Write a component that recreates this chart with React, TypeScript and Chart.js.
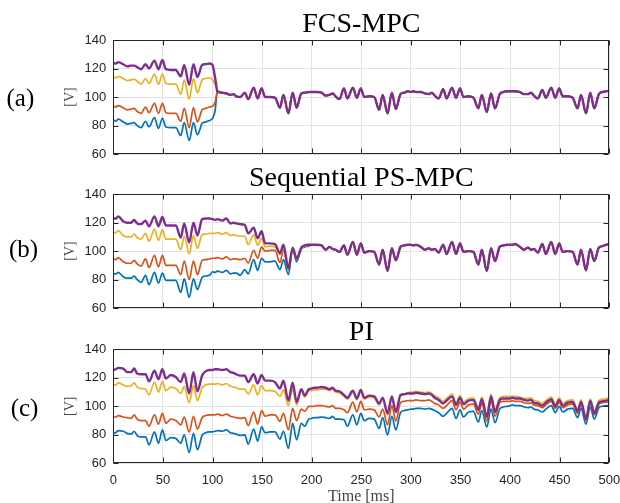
import React, { useEffect, useRef } from 'react';
import { Chart, registerables } from 'chart.js';

Chart.register(...registerables);

// ---------- DATA ----------
// Time axis [ms]
const time = [
  0, 2.5, 5, 10, 14, 18, 21, 24, 28, 32.5, 36, 41.5, 45.5, 49.5, 53, 58, 63, 68, 71.5, 76.5, 80.8, 84.8, 89.5, 93, 97,
  100, 102.5, 105, 110, 114, 118, 121, 124, 128, 132.5, 136, 141.5, 145.5, 149.5, 153, 158, 163, 168, 171.5, 176.5, 180.8, 184.8, 189.5, 193, 197,
  200, 202.5, 205, 210, 214, 218, 221, 224, 228, 232.5, 236, 241.5, 245.5, 249.5, 253, 258, 263, 268, 271.5, 276.5, 280.8, 284.8, 289.5, 293, 297,
  300, 302.5, 305, 310, 314, 318, 321, 324, 328, 332.5, 336, 341.5, 345.5, 349.5, 353, 358, 363, 368, 371.5, 376.5, 380.8, 384.8, 389.5, 393, 397,
  400, 402.5, 405, 410, 414, 418, 421, 424, 428, 432.5, 436, 441.5, 445.5, 449.5, 453, 458, 463, 468, 471.5, 476.5, 480.8, 484.8, 489.5, 493, 497,
  500,
];

// (a) FCS-MPC: separate start (0-102.5 ms), common converged part afterwards
const fcsBlueHead = [
  84, 83, 84.5, 82.5, 81, 81.5, 82, 80, 78.5, 83, 79, 85.5, 78, 85, 79, 78.5, 78.5, 73, 82, 69.5, 82, 73.5, 81.5, 82.5, 83.5,
  85, 90,
];
const fcsOrangeHead = [
  93.5, 93, 94, 92.5, 91, 91.5, 92, 90, 88.5, 93, 89, 95.5, 88.5, 95.5, 89, 88.5, 88.5, 83, 92, 78.5, 92.5, 82.5, 91, 92, 93,
  93.5, 96,
];
const fcsYellowHead = [
  114, 113.5, 114.5, 113, 111.5, 112, 112.5, 111, 109, 113, 109.5, 116, 109, 116, 109.5, 109, 109, 102, 112, 98.5, 113, 103, 112, 113, 113.5,
  112, 109,
];
const fcsPurpleHead = [
  124, 123.5, 124.5, 123, 121.5, 122, 122, 121, 119.5, 123, 120, 125.5, 119.5, 126, 119.5, 119, 119, 114.5, 122.5, 108.5, 123, 114, 122.5, 123, 123.5,
  122.5, 114,
];
const fcsTail = [
  104, 103, 102.5, 101.5, 102, 100.5, 100, 103, 98.5, 106.5, 99, 106, 100, 100, 99.5, 92.5, 101.5, 88.5, 103, 92.5, 102.5, 103, 103.5,
  103.5, 103.5, 103.5, 103, 101, 101.5, 102.5, 100.5, 98.5, 106, 99, 106.5, 99.5, 106, 100, 100.5, 100, 91, 101.5, 88.5, 103, 91.5, 102, 103, 104,
  103.5, 104, 103.5, 103.5, 102.5, 102, 103, 101, 99, 105.5, 99, 106.5, 99.5, 106, 100, 100.5, 99.5, 92, 101.5, 89.5, 102.5, 92, 102, 103.5, 104,
  104, 104, 104, 103.5, 102, 102, 103, 101, 99, 105, 99.5, 106.5, 99.5, 106, 100.5, 100.5, 99.5, 92, 101.5, 88.5, 103, 92, 102, 103.5, 104,
  104.5,
];

// (b) Sequential PS-MPC: separate start (0-197 ms), common converged part afterwards
const psBlueHead = [
  84, 84, 85, 82, 81, 81, 82.5, 80, 78, 83, 76.5, 85, 77.5, 84.5, 79.5, 79.5, 79.5, 71, 80.5, 67.5, 80.5, 73, 81.5, 82.5, 83,
  85.5, 85, 86, 85, 86.5, 84, 84.5, 84.5, 83, 87, 84, 94, 86.5, 95, 92.5, 92.5, 93, 87, 94, 83.5, 101.5, 92.5, 101.5, 103, 103.5,
];
const psOrangeHead = [
  94.5, 94, 95.5, 92.5, 91.5, 91.5, 93.5, 91, 89.5, 94.5, 88.5, 97, 89, 97, 90, 90, 90, 83.5, 93, 80, 93, 83.5, 93.5, 94, 94.5,
  95, 95, 95.5, 94.5, 96, 94, 94.5, 94.5, 94, 95, 91.5, 100.5, 95, 103, 100, 100.5, 100.5, 92, 101, 87, 102, 94, 102, 103.5, 104,
];
const psYellowHead = [
  113, 113, 114.5, 111, 110, 110, 112, 109.5, 108.5, 112.5, 107, 115.5, 107.5, 115, 108.5, 108.5, 108.5, 101, 110.5, 98, 111, 102, 111.5, 112, 112.5,
  112.5, 112.5, 113, 112, 113, 111, 111.5, 111, 110.5, 110.5, 104.5, 111.5, 104, 109, 103, 103.5, 103, 97.5, 102.5, 88, 101.5, 95, 102, 103.5, 104,
];
const psPurpleHead = [
  123, 123, 124.5, 121, 120, 120, 122, 119.5, 119, 121.5, 117.5, 124.5, 117.5, 124, 118, 118, 118, 109.5, 119.5, 106, 120, 111, 122.5, 123, 123,
  122.5, 122, 122.5, 121.5, 123, 119.5, 120, 119.5, 119, 118.5, 112.5, 116.5, 109, 114, 105.5, 105.5, 105, 98.5, 104.5, 88, 102.5, 95, 102.5, 104, 104.5,
];
const psTail = [
  104.5, 104.5, 104.5, 104, 101, 103, 101.5, 101, 99.5, 104, 97.5, 106.5, 97.5, 105.5, 99, 100, 99.5, 90.5, 101, 86, 102, 93.5, 103, 104, 104.5,
  104.5, 104, 104.5, 103, 101, 102, 101, 101.5, 99, 104.5, 98, 106.5, 98, 105.5, 99.5, 100, 99.5, 90.5, 101, 86, 102, 93, 103, 104, 104.5,
  104.5, 104.5, 105, 103, 101, 102.5, 101, 101.5, 99, 105, 98, 106.5, 98, 105.5, 99.5, 100, 99.5, 90.5, 101, 86.5, 101.5, 93, 102.5, 103.5, 104.5,
  105,
];

// (c) PI
const piBlue = [
  81, 81.5, 83, 82.5, 81, 80.5, 82.5, 79.5, 78.5, 78.5, 73, 82, 74, 83.5, 76, 78, 77.5, 74, 80, 67.5, 81, 69.5, 79.5, 81.5, 82,
  82, 82.5, 83, 82.5, 83.5, 81.5, 81, 80.5, 79.5, 80, 73.5, 84, 75.5, 85.5, 81.5, 82, 82, 77, 82.5, 70.5, 88, 76.5, 88, 86, 91,
  91.5, 92, 92, 92.5, 92, 91.5, 93, 91, 91, 90.5, 86, 94, 87, 95, 90, 91.5, 91, 84.5, 92, 80, 93, 83.5, 95.5, 97, 97.5,
  98, 98, 98.5, 98.5, 98, 98.5, 98, 97, 95.5, 93, 95, 98.5, 91.5, 97.5, 92.5, 96, 96.5, 89, 97, 85.5, 98, 88.5, 98, 99.5, 100,
  100.5, 101, 100.5, 100.5, 99.5, 99, 99.5, 98, 97.5, 96, 98, 100.5, 95.5, 100, 96, 98, 98.5, 92, 98.5, 87.5, 99.5, 91, 99, 100, 100.5,
  100.5,
];
const piOrange = [
  92.5, 92.5, 93.5, 92.5, 92, 91.5, 94, 91, 90, 90, 86, 94, 87.5, 95, 88, 91, 90, 87, 92.5, 82, 93, 84, 92, 93.5, 94,
  94, 94, 94.5, 93.5, 94.5, 93, 92.5, 92, 91.5, 92, 86.5, 96, 87.5, 97, 93, 94, 94, 89.5, 95, 83.5, 98.5, 90, 98, 96.5, 100,
  100, 100, 100.5, 100.5, 100, 99.5, 100.5, 98.5, 98.5, 97.5, 95.5, 103, 96, 103.5, 97.5, 98, 97.5, 92.5, 98, 87, 100.5, 89.5, 102.5, 103.5, 104,
  104, 104, 104.5, 104, 104, 104.5, 103.5, 102, 101, 98.5, 100.5, 104, 97.5, 103, 98, 101, 101.5, 94.5, 102, 89.5, 104, 93, 102.5, 103.5, 103.5,
  103.5, 104, 103.5, 103.5, 102.5, 102, 102.5, 101, 100.5, 99, 101, 103.5, 98.5, 103, 99, 101, 101.5, 95, 101.5, 90, 102.5, 94, 101.5, 102.5, 103,
  103,
];
const piYellow = [
  115, 115, 116.5, 115, 114, 114.5, 116.5, 113.5, 112.5, 112, 108, 117, 110, 117.5, 111, 113.5, 112.5, 109, 114, 102.5, 114.5, 104, 113, 115, 115.5,
  115.5, 115.5, 116, 115, 116, 114, 113.5, 113, 112, 112, 108.5, 115, 108, 114.5, 111, 111, 110.5, 107, 111.5, 100.5, 112, 101, 111, 106.5, 111,
  111, 111.5, 111.5, 112, 112, 111, 112, 110, 109.5, 107, 105, 110, 104.5, 110.5, 105, 106.5, 106, 101, 105.5, 94, 106.5, 95.5, 107.5, 108.5, 109.5,
  110, 110, 110.5, 110, 109.5, 110, 109, 107.5, 106, 103.5, 105.5, 108.5, 102.5, 107.5, 103, 105.5, 106, 99, 106.5, 94, 108.5, 97.5, 106, 107, 107,
  107, 107, 107, 106.5, 105.5, 105.5, 106, 104, 103.5, 102, 104, 106.5, 101.5, 106, 102, 104, 104.5, 98, 104.5, 92.5, 105, 96.5, 104, 105, 105.5,
  106,
];
const piPurple = [
  125.5, 126, 127, 126.5, 124, 124, 126.5, 123, 122.5, 122.5, 117.5, 125, 119, 126, 119.5, 122, 120.5, 117, 123, 109, 124, 110.5, 121.5, 124.5, 125.5,
  125.5, 126, 126, 125.5, 126, 124, 123.5, 122.5, 121.5, 121.5, 117, 122.5, 116, 122, 118, 118, 117, 112.5, 118, 104, 116.5, 103, 112, 107.5, 112,
  112.5, 113, 113, 113.5, 113, 112, 113, 111, 110.5, 108, 106, 111, 105.5, 111.5, 106, 107.5, 107, 102, 106, 95, 107, 96, 108, 108.5, 109,
  109, 109, 109.5, 109, 108.5, 109, 108, 106, 104.5, 102, 104, 107, 101, 106, 101.5, 104, 104.5, 97.5, 105, 92.5, 107, 96, 104.5, 105.5, 105.5,
  105.5, 106, 105.5, 105.5, 104.5, 104, 104.5, 102.5, 102, 100.5, 102.5, 105, 100, 104.5, 100.5, 102.5, 103, 96.5, 103, 91, 104, 95, 102.5, 103.5, 104,
  104.5,
];

const panelTitles = ['FCS-MPC', 'Sequential PS-MPC', 'PI'];
const panelTags = ['(a)', '(b)', '(c)'];
const seriesNames = ['v1', 'v2', 'v3', 'v4'];

// ---------- STYLE ----------
const COLORS = ['#0072BD', '#D95319', '#EDB120', '#7E2F8E'];
const SERIF = "'Liberation Serif', 'Times New Roman', serif";
const SANS = "'Liberation Sans', Arial, Helvetica, sans-serif";

function toPoints(ys: number[], name: string) {
  if (ys.length !== time.length) {
    throw new Error(`${name}: ${ys.length} values, expected ${time.length}`);
  }
  return ys.map((y, i) => ({ x: time[i], y }));
}

const framePlugin = {
  id: 'matlabFrame',
  afterDatasetsDraw(chart: any) {
    const { ctx, chartArea, scales } = chart;
    const l = Math.round(chartArea.left) + 0.5;
    const r = Math.round(chartArea.right) - 0.5;
    const t = Math.round(chartArea.top) + 0.5;
    const b = Math.round(chartArea.bottom) - 0.5;
    const tl = 5;
    ctx.save();
    ctx.strokeStyle = '#262626';
    ctx.lineWidth = 1;
    ctx.beginPath();
    scales.x.ticks.forEach((tk: any) => {
      const px = Math.round(scales.x.getPixelForValue(tk.value)) + 0.5;
      ctx.moveTo(px, b);
      ctx.lineTo(px, b - tl);
      ctx.moveTo(px, t);
      ctx.lineTo(px, t + tl);
    });
    scales.y.ticks.forEach((tk: any) => {
      const py = Math.round(scales.y.getPixelForValue(tk.value)) + 0.5;
      ctx.moveTo(l, py);
      ctx.lineTo(l + tl, py);
      ctx.moveTo(r, py);
      ctx.lineTo(r - tl, py);
    });
    ctx.stroke();
    ctx.strokeRect(l, t, r - l, b - t);
    ctx.restore();
  },
};

type PanelProps = {
  top: number;
  height: number;
  label: string;
  series: number[][];
  showX: boolean;
  xAxisHeight: number;
  topPad: number;
  bottomPad: number;
};

function Panel(props: PanelProps) {
  const ref = useRef<HTMLCanvasElement>(null);
  useEffect(() => {
    const canvas = ref.current;
    if (!canvas) return;
    const datasets = props.series.map((ys, i) => ({
      label: seriesNames[i],
      data: toPoints(ys, `${props.label} ${seriesNames[i]}`),
      borderColor: COLORS[i],
      backgroundColor: COLORS[i],
      borderWidth: i === 3 ? 2.4 : 1.7,
      pointRadius: 0,
      pointHoverRadius: 0,
      cubicInterpolationMode: 'monotone' as const,
      order: 4 - i,
    }));
    const chart = new Chart(canvas, {
      type: 'line',
      data: { datasets },
      options: {
        animation: false,
        responsive: false,
        maintainAspectRatio: false,
        events: [],
        layout: { padding: { left: 0, right: 10.7, top: props.topPad, bottom: props.bottomPad } },
        plugins: {
          legend: { display: false },
          tooltip: { enabled: false },
          title: { display: false },
        },
        scales: {
          x: {
            type: 'linear',
            min: 0,
            max: 500,
            ticks: {
              display: props.showX,
              stepSize: 50,
              padding: 9,
              color: '#262626',
              font: { family: SANS, size: 13 },
              maxRotation: 0,
              autoSkip: false,
            },
            grid: { color: '#e2e2e2', lineWidth: 1, drawTicks: false },
            border: { display: false },
            title: {
              display: props.showX,
              text: 'Time [ms]',
              color: '#444444',
              font: { family: SERIF, size: 16, lineHeight: 0.8 },
              padding: 0,
            },
            afterFit: (s: any) => {
              s.height = props.xAxisHeight;
              s.paddingLeft = 0;
              s.paddingRight = 0;
            },
          },
          y: {
            type: 'linear',
            min: 60,
            max: 140,
            ticks: {
              stepSize: 20,
              padding: 7,
              color: '#262626',
              font: { family: SANS, size: 13 },
            },
            grid: { color: '#e2e2e2', lineWidth: 1, drawTicks: false },
            border: { display: false },
            title: {
              display: true,
              text: '[V]',
              color: '#444444',
              font: { family: SERIF, size: 14, lineHeight: 1.2 },
              padding: { top: 61.6, bottom: 0 },
            },
            afterFit: (s: any) => {
              s.width = 113.3;
              s.paddingTop = 0;
              s.paddingBottom = 0;
            },
          },
        },
      } as any,
      plugins: [framePlugin],
    });
    return () => chart.destroy();
  }, []);
  return (
    <canvas
      ref={ref}
      width={620}
      height={props.height}
      style={{ position: 'absolute', left: 0, top: props.top, width: 620, height: props.height, display: 'block' }}
    />
  );
}

const tagStyle = (left: number, top: number): React.CSSProperties => ({
  position: 'absolute',
  left,
  top,
  fontFamily: SERIF,
  fontSize: 25,
  lineHeight: '25px',
  color: '#000',
  whiteSpace: 'nowrap',
});

const titleStyle = (top: number): React.CSSProperties => ({
  position: 'absolute',
  left: 113.3,
  width: 496,
  top,
  textAlign: 'center',
  fontFamily: SERIF,
  fontSize: 28,
  lineHeight: '28px',
  color: '#000',
  whiteSpace: 'nowrap',
});

export default function App() {
  const fcs = [
    [...fcsBlueHead, ...fcsTail],
    [...fcsOrangeHead, ...fcsTail],
    [...fcsYellowHead, ...fcsTail],
    [...fcsPurpleHead, ...fcsTail],
  ];
  const ps = [
    [...psBlueHead, ...psTail],
    [...psOrangeHead, ...psTail],
    [...psYellowHead, ...psTail],
    [...psPurpleHead, ...psTail],
  ];
  const pi = [piBlue, piOrange, piYellow, piPurple];
  return (
    <div
      style={{
        position: 'fixed',
        left: 0,
        top: 0,
        width: 620,
        height: 503,
        background: '#ffffff',
        overflow: 'hidden',
      }}
    >
      <Panel top={0} height={160} label="a" series={fcs} showX={false} xAxisHeight={0} topPad={40} bottomPad={6} />
      <Panel top={154} height={160} label="b" series={ps} showX={false} xAxisHeight={0} topPad={40.3} bottomPad={6} />
      <Panel top={309} height={194} label="c" series={pi} showX={true} xAxisHeight={39.7} topPad={40.3} bottomPad={0} />
      <div style={titleStyle(9.3)}>{panelTitles[0]}</div>
      <div style={titleStyle(163.3)}>{panelTitles[1]}</div>
      <div style={titleStyle(317.3)}>{panelTitles[2]}</div>
      <div style={tagStyle(6.5, 84.6)}>{panelTags[0]}</div>
      <div style={tagStyle(9, 236.4)}>{panelTags[1]}</div>
      <div style={tagStyle(10.7, 394.7)}>{panelTags[2]}</div>
    </div>
  );
}
